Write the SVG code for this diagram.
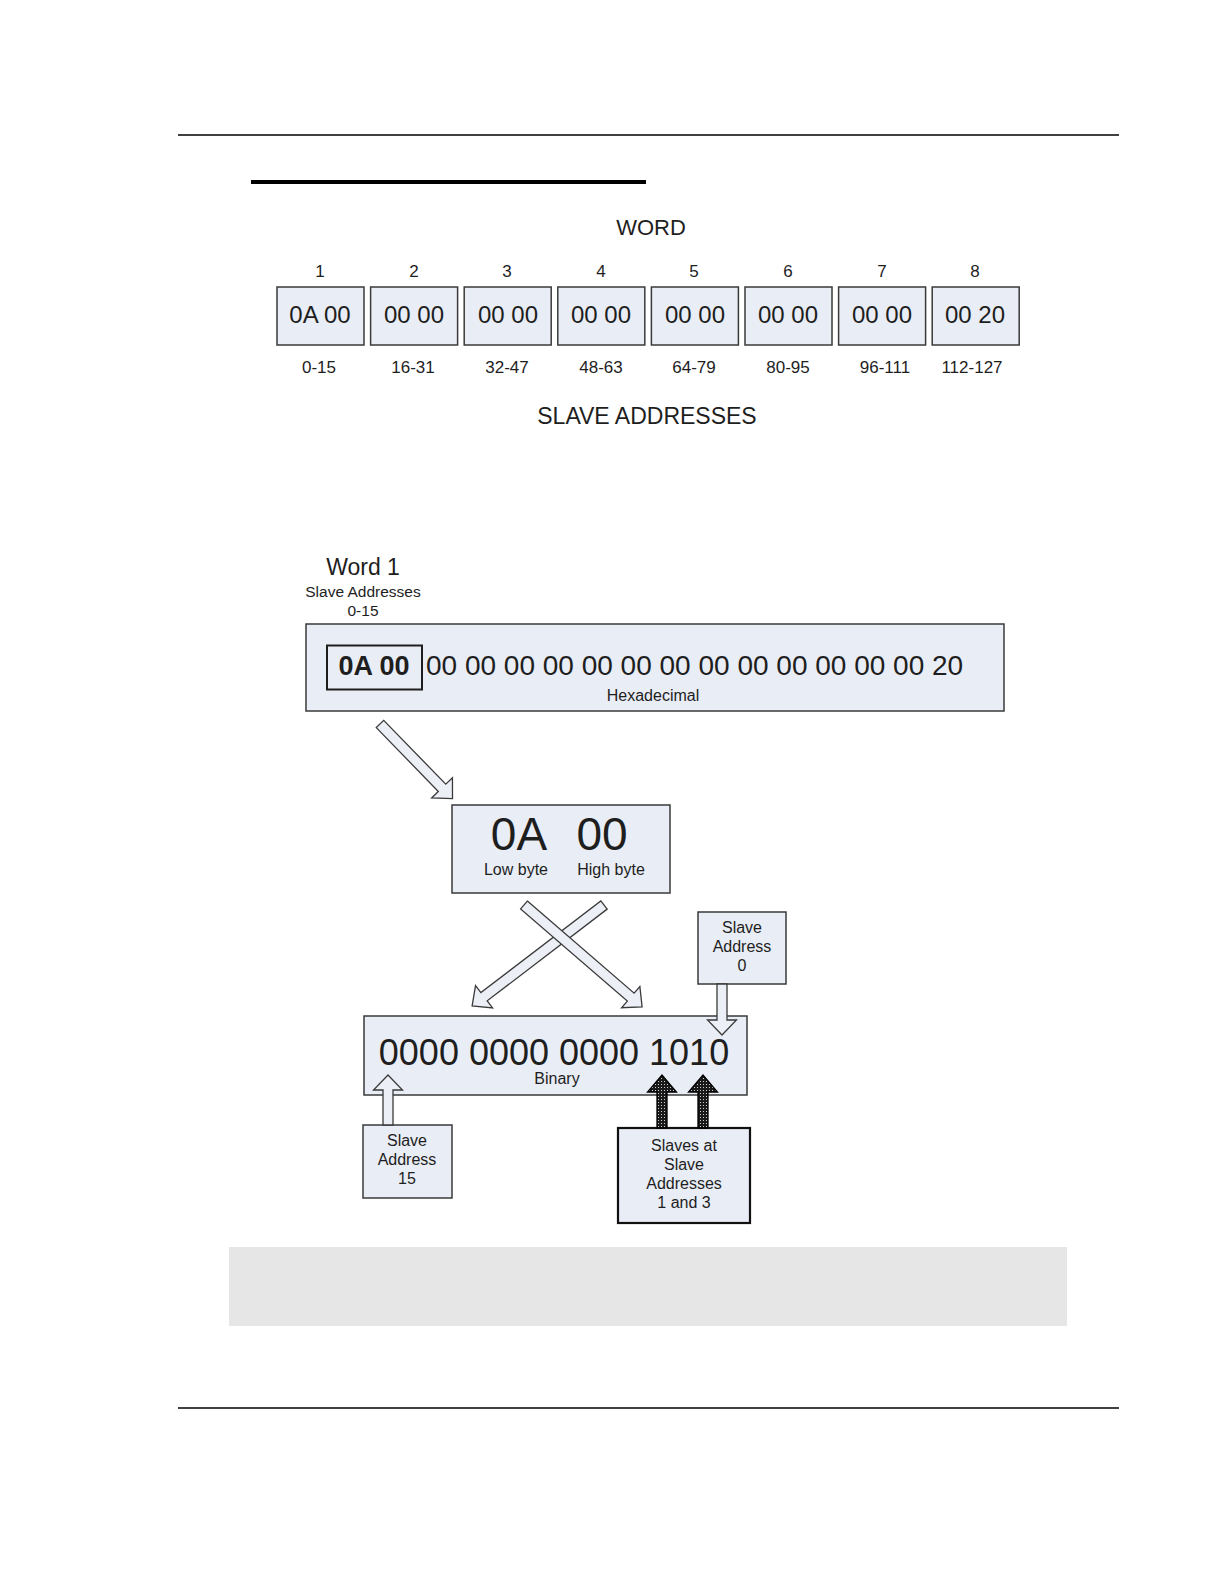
<svg xmlns="http://www.w3.org/2000/svg" width="1224" height="1584" viewBox="0 0 1224 1584">
<style>
text{font-family:"Liberation Sans",Arial,sans-serif;fill:#1e1e1e;text-anchor:middle}
.box{fill:#e9edf5;stroke:#3a3a3a;stroke-width:1.5}
.arr{fill:#eceff5;stroke:#3a3a3a;stroke-width:1.3;stroke-linejoin:miter}
.dark{fill:url(#dots);stroke:#000;stroke-width:1.3}
.n{font-size:17px}
.h{font-size:24px}
.s{font-size:16px}
</style>
<defs>
<pattern id="dots" width="3" height="3" patternUnits="userSpaceOnUse">
<rect width="3" height="3" fill="#1a1a1a"/>
<rect x="1" y="1" width="1" height="1" fill="#d0d0d0"/>
</pattern>
</defs>
<rect width="1224" height="1584" fill="#fff"/>
<g id="page">
<line x1="178" y1="135" x2="1119" y2="135" stroke="#000" stroke-width="1.5"/>
<rect x="251" y="180" width="395" height="4" fill="#000"/>
<rect x="229" y="1247" width="838" height="79" fill="#e6e6e6"/>
<line x1="178" y1="1408" x2="1119" y2="1408" stroke="#000" stroke-width="1.5"/>
</g>
<g id="word-title"><text x="651" y="235" style="font-size:22px">WORD</text></g>
<g id="words">
<g id="w1"><text class="n" x="320" y="277">1</text><rect class="box" x="277" y="287" width="87" height="58"/><text class="h" x="320" y="323">0A 00</text><text class="n" x="319" y="373">0-15</text></g>
<g id="w2"><text class="n" x="414" y="277">2</text><rect class="box" x="370.6" y="287" width="87" height="58"/><text class="h" x="414" y="323">00 00</text><text class="n" x="413" y="373">16-31</text></g>
<g id="w3"><text class="n" x="507" y="277">3</text><rect class="box" x="464.2" y="287" width="87" height="58"/><text class="h" x="508" y="323">00 00</text><text class="n" x="507" y="373">32-47</text></g>
<g id="w4"><text class="n" x="601" y="277">4</text><rect class="box" x="557.8" y="287" width="87" height="58"/><text class="h" x="601" y="323">00 00</text><text class="n" x="601" y="373">48-63</text></g>
<g id="w5"><text class="n" x="694" y="277">5</text><rect class="box" x="651.4" y="287" width="87" height="58"/><text class="h" x="695" y="323">00 00</text><text class="n" x="694" y="373">64-79</text></g>
<g id="w6"><text class="n" x="788" y="277">6</text><rect class="box" x="745" y="287" width="87" height="58"/><text class="h" x="788" y="323">00 00</text><text class="n" x="788" y="373">80-95</text></g>
<g id="w7"><text class="n" x="882" y="277">7</text><rect class="box" x="838.6" y="287" width="87" height="58"/><text class="h" x="882" y="323">00 00</text><text class="n" x="885" y="373">96-111</text></g>
<g id="w8"><text class="n" x="975" y="277">8</text><rect class="box" x="932.2" y="287" width="87" height="58"/><text class="h" x="975" y="323">00 20</text><text class="n" x="972" y="373">112-127</text></g>
</g>
<g id="slave-title"><text x="647" y="424" style="font-size:23px">SLAVE ADDRESSES</text></g>
<g id="word1-label">
<text x="363" y="575" style="font-size:23px">Word 1</text>
<text x="363" y="597" style="font-size:15.5px">Slave Addresses</text>
<text x="363" y="616" style="font-size:15.5px">0-15</text>
</g>
<g id="hex-box">
<rect class="box" x="306" y="624" width="698" height="87"/>
<rect x="327" y="645.5" width="95" height="44" fill="none" stroke="#1e1e1e" stroke-width="2"/>
<text x="374" y="675" style="font-size:27px;font-weight:bold">0A 00</text>
<text x="426" y="675" style="font-size:28px;text-anchor:start">00 00 00 00 00 00 00 00 00 00 00 00 00 20</text>
<text class="s" x="653" y="701">Hexadecimal</text>
</g>
<g id="byte-box">
<rect class="box" x="452" y="805" width="218" height="88"/>
<text x="519" y="850" style="font-size:46px">0A</text>
<text x="602" y="850" style="font-size:46px">00</text>
<text class="s" x="516" y="875">Low byte</text>
<text class="s" x="611" y="875">High byte</text>
</g>
<g id="slave0">
<rect class="box" x="698" y="912" width="88" height="72"/>
<text class="s" x="742" y="933">Slave</text>
<text class="s" x="742" y="952">Address</text>
<text class="s" x="742" y="971">0</text>
</g>
<g id="binary-box">
<rect class="box" x="364" y="1016" width="383" height="79"/>
<text x="554" y="1065" style="font-size:36px">0000 0000 0000 1010</text>
<text class="s" x="557" y="1084">Binary</text>
</g>
<g id="slave15">
<rect class="box" x="363" y="1125" width="89" height="73"/>
<text class="s" x="407" y="1146">Slave</text>
<text class="s" x="407" y="1165">Address</text>
<text class="s" x="407" y="1184">15</text>
</g>
<g id="slaves13">
<rect class="box" x="618" y="1128" width="132" height="95" style="stroke:#111;stroke-width:2.2"/>
<text class="s" x="684" y="1151">Slaves at</text>
<text class="s" x="684" y="1170">Slave</text>
<text class="s" x="684" y="1189">Addresses</text>
<text class="s" x="684" y="1208">1 and 3</text>
</g>
<g id="connectors">
<polygon class="arr" transform="translate(380,724) rotate(45.8)" points="0,-5.2 89,-5.2 89,-14.5 104,0 89,14.5 89,5.2 0,5.2"/>
<polygon class="arr" transform="translate(604,905) rotate(142.6)" points="0,-5.2 151,-5.2 151,-14 166,0 151,14 151,5.2 0,5.2"/>
<polygon class="arr" transform="translate(524,905) rotate(40.8)" points="0,-5.2 141,-5.2 141,-14 156,0 141,14 141,5.2 0,5.2"/>
<polygon class="arr" points="717,984 727,984 727,1020 736.5,1020 722,1035 707.5,1020 717,1020"/>
<polygon class="arr" points="383,1125 383,1090 373.5,1090 388,1075 402.5,1090 393,1090 393,1125"/>
<polygon class="dark" points="657,1128 657,1092 647.5,1092 662,1075 676.5,1092 667,1092 667,1128"/>
<polygon class="dark" points="698,1128 698,1092 688.5,1092 703,1075 717.5,1092 708,1092 708,1128"/>
</g>
</svg>
